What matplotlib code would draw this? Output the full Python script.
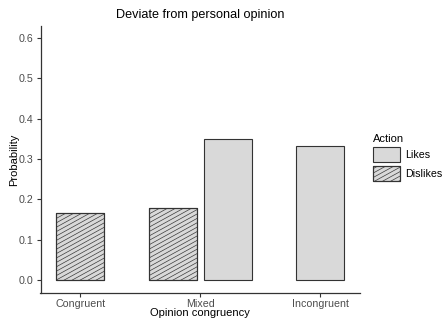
import numpy as np
import matplotlib
matplotlib.use("Agg")
import matplotlib.pyplot as plt
from matplotlib.patches import Rectangle
from matplotlib.collections import LineCollection
from matplotlib.legend_handler import HandlerPatch
from matplotlib.transforms import IdentityTransform

plt.rcParams["font.family"] = ["Liberation Sans", "DejaVu Sans"]

# Data
categories = ["Congruent", "Mixed", "Incongruent"]
likes = [np.nan, 0.349, 0.332]
dislikes = [0.166, 0.178, np.nan]
yticks = [0.0, 0.1, 0.2, 0.3, 0.4, 0.5, 0.6]

FILL = "#D9D9D9"
EDGE = "#333333"
TICK_GREY = "#4D4D4D"
BAR_W = 0.40
DODGE = 0.228

W, H = 443, 323
fig = plt.figure(figsize=(W / 100, H / 100), dpi=100)
ax = fig.add_axes([40.5 / W, 1 - 293 / H, 319.5 / W, 267 / H])


def hatch_segments(x0, y0, x1, y1, spacing, slope):
    """Parallel rising lines covering the box (x0,y0)-(x1,y1)."""
    segs = []
    span = (x1 - x0) * slope
    c = y0 - span
    while c < y1 + spacing:
        segs.append([(x0 - 2, c - 2 * slope), (x1 + 2, c + (x1 - x0 + 2) * slope)])
        c += spacing
    return segs


hatched = []
for i, cat in enumerate(categories):
    pair = [(v, kind) for v, kind in ((dislikes[i], "dislikes"), (likes[i], "likes"))
            if not np.isnan(v)]
    n = len(pair)
    for j, (v, kind) in enumerate(pair):
        off = 0 if n == 1 else (-DODGE if j == 0 else DODGE)
        bars = ax.bar(i + off, v, width=BAR_W, color=FILL, edgecolor=EDGE,
                      linewidth=0.8, zorder=2)
        if kind == "dislikes":
            hatched.append(bars[0])

ax.set_xlim(-0.33, 2.33)
ax.set_ylim(-0.032, 0.63)
ax.set_xticks(range(len(categories)))
ax.set_xticklabels(categories)
ax.set_yticks(yticks)
ax.set_yticklabels([f"{t:.1f}" for t in yticks])

fig.canvas.draw()
for rect in hatched:
    bb = rect.get_window_extent()
    segs = hatch_segments(bb.x0, bb.y0, bb.x1, bb.y1, 4.4, 0.55)
    lc = LineCollection(segs, colors="#3A3A3A", linewidths=0.5,
                        transform=IdentityTransform(), zorder=2.5)
    ax.add_collection(lc, autolim=False)
    lc.set_clip_box(None)
    lc.set_clip_path(rect.get_path(), rect.get_transform())
    edge = Rectangle(rect.get_xy(), rect.get_width(), rect.get_height(),
                     facecolor="none", edgecolor=EDGE, linewidth=0.8, zorder=3)
    ax.add_patch(edge)

for s in ("top", "right"):
    ax.spines[s].set_visible(False)
for s in ("left", "bottom"):
    ax.spines[s].set_color(EDGE)
    ax.spines[s].set_linewidth(0.9)
ax.tick_params(axis="both", colors=EDGE, labelcolor=TICK_GREY, labelsize=7.7,
               length=3, width=0.8)
ax.tick_params(axis="x", pad=1.5)
ax.tick_params(axis="y", pad=2)

ax.set_xlabel("Opinion congruency", fontsize=8)
ax.set_ylabel("Probability", fontsize=8)
ax.xaxis.set_label_coords(0.5, -0.075)
ax.yaxis.set_label_coords(-0.083, 0.5)
ax.xaxis.label.set_va("center")
ax.yaxis.label.set_va("center")
ax.set_title("Deviate from personal opinion", fontsize=9.1, pad=5.8)


class HatchedHandler(HandlerPatch):
    def create_artists(self, legend, orig_handle, xdescent, ydescent,
                       width, height, fontsize, trans):
        r = Rectangle((-xdescent, -ydescent), width, height,
                      facecolor=FILL, edgecolor=EDGE, linewidth=0.8,
                      transform=trans)
        segs = hatch_segments(-xdescent, -ydescent, -xdescent + width,
                              -ydescent + height, 3.2, 0.55)
        lc = LineCollection(segs, colors="#3A3A3A", linewidths=0.5,
                            transform=trans)
        lc.set_clip_path(r.get_path(), r.get_transform())
        edge = Rectangle((-xdescent, -ydescent), width, height,
                         facecolor="none", edgecolor=EDGE, linewidth=0.8,
                         transform=trans)
        return [r, lc, edge]


h_likes = Rectangle((0, 0), 1, 1, facecolor=FILL, edgecolor=EDGE, linewidth=0.8)
h_dis = Rectangle((0, 0), 1, 1, facecolor=FILL, edgecolor=EDGE, linewidth=0.8)
leg = fig.legend([h_likes, h_dis], ["Likes", "Dislikes"], title="Action",
                 loc="upper left", bbox_to_anchor=(373 / W, 1 - 133.5 / H),
                 frameon=False, fontsize=7.7, title_fontsize=8,
                 handlelength=2.52, handleheight=1.75, labelspacing=0.35,
                 handletextpad=0.47, borderpad=0, borderaxespad=0,
                 alignment="left",
                 handler_map={h_dis: HatchedHandler()})

fig.savefig("out.png", dpi=100)
